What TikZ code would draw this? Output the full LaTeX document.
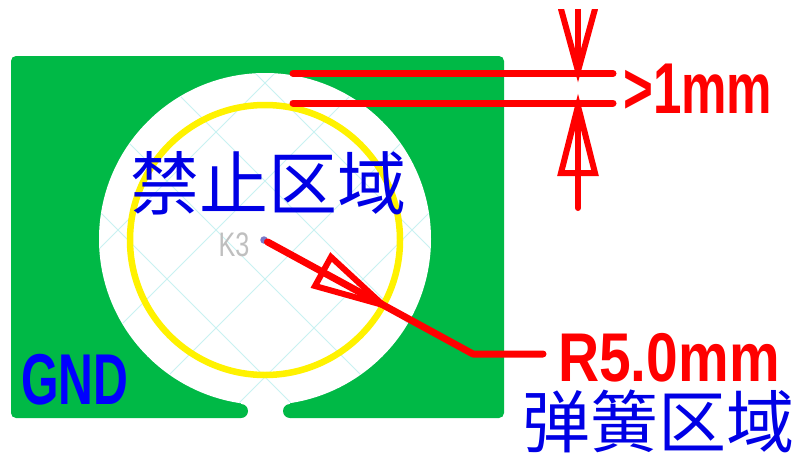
\documentclass[tikz,border=0pt]{standalone}
\usepackage{fontspec}
\setmainfont{Liberation Sans}
\newfontfamily\cjk{Noto Sans CJK SC}
\definecolor{padgreen}{RGB}{0,185,70}
\definecolor{hatchcyan}{RGB}{200,242,242}
\definecolor{holeblue}{RGB}{120,120,200}
\tikzset{
	dimline/.style={draw=red, line width=7pt, line cap=round, line join=round},
	dimhead/.style={draw=red, line width=6pt, line cap=round, line join=miter},
	zone/.style={text=blue!90!black, inner sep=0pt, anchor=base, text height=50pt, text depth=6pt},
	redlabel/.style={text=red, inner sep=0pt},
}
\begin{document}
\begin{tikzpicture}[x=1pt, y=-1pt]
	\useasboundingbox (0,0) rectangle (795,455);
	% Pad
	\fill[padgreen, rounded corners=5pt] (11,56) rectangle (504,418);
	\fill[white] (241,398) rectangle (290,420);
	\fill[padgreen] (241,411) circle (7);
	\fill[padgreen] (290,411) circle (7);
	\fill[white] (265,239) circle (166);
	% Hatch
	\begin{scope}
		\clip (265,239) circle (165.5);
		\foreach \c in {250,348,446,544,642,740}
			\draw[hatchcyan, line width=0.8pt] (0,\c) -- (\c,0);
		\foreach \c in {-210,-112,-14,84,182,280}
			\draw[hatchcyan, line width=0.8pt] (0,-\c) -- (600,600-\c);
	\end{scope}
	\draw[yellow, line width=6.5pt] (265,240) circle (135);
	% Nodes
	\node[circle, fill=holeblue, inner sep=0pt, minimum size=7.5pt] (hole) at (264,240) {};
	\node[text=black!25, inner sep=0pt, font=\fontsize{34}{34}\selectfont, xscale=0.74] (ref) at (234,245) {K3};
	\node[zone, font=\cjk\fontsize{69}{69}\selectfont] (keepout) at (268,209) {禁止区域};
	\node[zone, font=\cjk\fontsize{68}{68}\selectfont] (spring) at (658,447.5) {弹簧区域};
	\node[text=blue, inner sep=0pt, font=\bfseries\fontsize{72}{72}\selectfont, xscale=0.67] (gnd) at (75,380) {GND};
	\node[redlabel, font=\bfseries\fontsize{69}{69}\selectfont, xscale=0.825, anchor=west] (radius) at (558,358) {R5.0mm};
	\node[redlabel, font=\bfseries\fontsize{72}{72}\selectfont, xscale=0.71, anchor=west] (gap) at (623,89) {>1mm};
	% Coordinates
	\coordinate (topa) at (293,73.5);
	\coordinate (topb) at (613,73.5);
	\coordinate (lowa) at (293,103);
	\coordinate (lowb) at (613,103);
	\coordinate (bend) at (473,354);
	\coordinate (ldrend) at (543,354);
	\coordinate (ldrtip) at (383,305);
	\coordinate (ldrl) at (331,257);
	\coordinate (ldrr) at (315,286);
	\coordinate (uptip) at (578,71);
	\coordinate (upstem) at (578,9);
	\coordinate (upl) at (561,9);
	\coordinate (upr) at (595,9);
	\coordinate (dntip) at (578,106);
	\coordinate (dnstem) at (578,208);
	\coordinate (dnl) at (561,173);
	\coordinate (dnr) at (595,173);
	% Edges
	\draw[dimline] (topa) -- (topb);
	\draw[dimline] (lowa) -- (lowb);
	\draw[dimline] (hole) -- (bend) -- (ldrend);
	\begin{scope}
		\clip (540,9) rectangle (620,200);
		\draw[dimhead] (upl) -- (uptip) -- (upr);
		\draw[dimhead] (upstem) -- (uptip);
	\end{scope}
	\draw[dimhead] (dnl) -- (dntip) -- (dnr) -- cycle;
	\draw[dimhead] (dnstem) -- (dntip);
	\draw[dimhead] (ldrl) -- (ldrtip) -- (ldrr) -- cycle;
\end{tikzpicture}
\end{document}
